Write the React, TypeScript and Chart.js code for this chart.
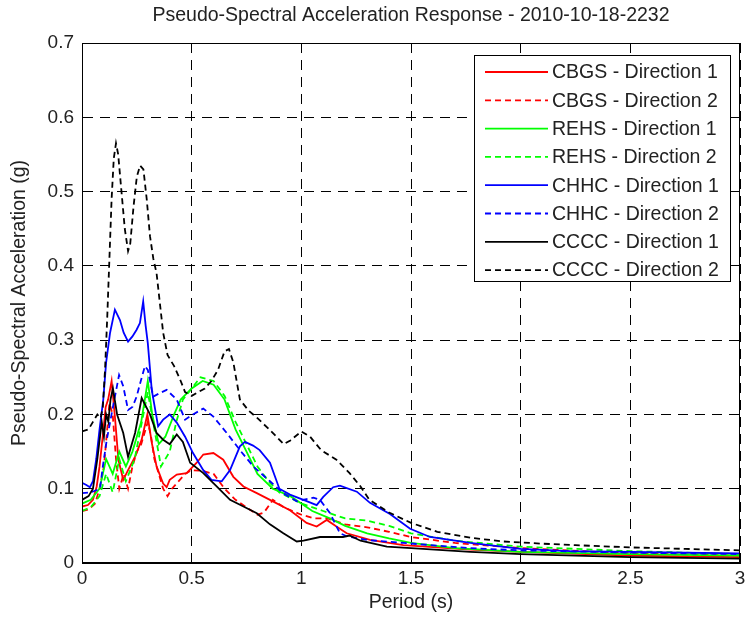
import React, { useEffect, useRef } from 'react';
import { Chart, registerables } from 'chart.js';

Chart.register(...registerables);

const FONT = "'Liberation Sans', Arial, Helvetica, sans-serif";
const TITLE = 'Pseudo-Spectral Acceleration Response - 2010-10-18-2232';
const X_LABEL = 'Period (s)';
const Y_LABEL = 'Pseudo-Spectral Acceleration (g)';
const X_TICKS = [0, 0.5, 1, 1.5, 2, 2.5, 3];
const Y_TICKS = [0, 0.1, 0.2, 0.3, 0.4, 0.5, 0.6, 0.7];

const SERIES_NAMES = [
  'CBGS - Direction 1',
  'CBGS - Direction 2',
  'REHS - Direction 1',
  'REHS - Direction 2',
  'CHHC - Direction 1',
  'CHHC - Direction 2',
  'CCCC - Direction 1',
  'CCCC - Direction 2',
];
const SERIES_COLORS = ['#ff0000', '#ff0000', '#00ff00', '#00ff00', '#0000ff', '#0000ff', '#000000', '#000000'];
const SERIES_DASHED = [false, true, false, true, false, true, false, true];

// CBGS - Direction 1
const CBGS1_T = [0, 0.027, 0.05, 0.067, 0.08, 0.096, 0.108, 0.119, 0.135, 0.15, 0.166, 0.188, 0.21, 0.242, 0.272, 0.298, 0.318, 0.34, 0.37, 0.386, 0.4, 0.432, 0.477, 0.523, 0.553, 0.599, 0.644, 0.69, 0.736, 0.797, 0.857, 0.948, 1.024, 1.07, 1.116, 1.16, 1.207, 1.313, 1.465, 1.77, 2.0, 2.5, 3.0];
const CBGS1_SA = [0.076, 0.078, 0.085, 0.103, 0.13, 0.175, 0.21, 0.22, 0.245, 0.197, 0.139, 0.112, 0.125, 0.143, 0.166, 0.2, 0.162, 0.13, 0.107, 0.102, 0.112, 0.119, 0.121, 0.135, 0.146, 0.148, 0.139, 0.116, 0.103, 0.094, 0.085, 0.071, 0.054, 0.049, 0.058, 0.049, 0.04, 0.031, 0.024, 0.018, 0.015, 0.01, 0.008];

// CBGS - Direction 2
const CBGS2_T = [0, 0.03, 0.06, 0.08, 0.1, 0.115, 0.125, 0.14, 0.155, 0.17, 0.19, 0.21, 0.23, 0.25, 0.27, 0.29, 0.3, 0.315, 0.33, 0.35, 0.37, 0.39, 0.41, 0.44, 0.47, 0.5, 0.55, 0.6, 0.65, 0.7, 0.75, 0.8, 0.83, 0.87, 0.92, 1.0, 1.06, 1.12, 1.2, 1.3, 1.4, 1.5, 1.7, 2.0, 2.5, 3.0];
const CBGS2_SA = [0.07, 0.072, 0.08, 0.1, 0.13, 0.18, 0.215, 0.2, 0.14, 0.1, 0.12, 0.1, 0.13, 0.15, 0.16, 0.18, 0.19, 0.17, 0.14, 0.12, 0.1, 0.09, 0.1, 0.11, 0.12, 0.125, 0.124, 0.12, 0.1, 0.085, 0.075, 0.065, 0.068, 0.085, 0.075, 0.065, 0.06, 0.06, 0.052, 0.048, 0.042, 0.035, 0.027, 0.02, 0.013, 0.01];

// REHS - Direction 1
const REHS1_T = [0, 0.04, 0.08, 0.11, 0.14, 0.17, 0.2, 0.23, 0.27, 0.3, 0.32, 0.35, 0.38, 0.42, 0.45, 0.5, 0.55, 0.6, 0.65, 0.7, 0.75, 0.8, 0.87, 0.95, 1.0, 1.05, 1.13, 1.2, 1.3, 1.4, 1.5, 1.7, 2.0, 2.5, 3.0];
const REHS1_SA = [0.08, 0.085, 0.1, 0.14, 0.12, 0.15, 0.13, 0.15, 0.19, 0.245, 0.2, 0.16, 0.17, 0.2, 0.22, 0.235, 0.245, 0.24, 0.22, 0.18, 0.15, 0.12, 0.1, 0.09, 0.08, 0.07, 0.06, 0.05, 0.04, 0.033, 0.027, 0.02, 0.015, 0.012, 0.01];

// REHS - Direction 2
const REHS2_T = [0, 0.04, 0.08, 0.11, 0.14, 0.17, 0.2, 0.24, 0.28, 0.3, 0.33, 0.36, 0.4, 0.43, 0.46, 0.5, 0.54, 0.6, 0.65, 0.7, 0.75, 0.8, 0.85, 0.9, 1.0, 1.1, 1.2, 1.3, 1.4, 1.5, 1.7, 2.0, 2.5, 3.0];
const REHS2_SA = [0.07, 0.075, 0.09, 0.12, 0.095, 0.14, 0.11, 0.14, 0.2, 0.23, 0.18, 0.13, 0.15, 0.19, 0.22, 0.235, 0.25, 0.245, 0.225, 0.19, 0.16, 0.13, 0.11, 0.095, 0.08, 0.07, 0.06, 0.057, 0.05, 0.04, 0.03, 0.022, 0.016, 0.012];

// CHHC - Direction 1
const CHHC1_T = [0, 0.02, 0.036, 0.05, 0.065, 0.08, 0.097, 0.11, 0.128, 0.15, 0.173, 0.19, 0.21, 0.23, 0.249, 0.264, 0.279, 0.29, 0.3, 0.318, 0.347, 0.37, 0.4, 0.432, 0.47, 0.506, 0.553, 0.59, 0.637, 0.675, 0.72, 0.743, 0.78, 0.81, 0.857, 0.9, 0.948, 1.01, 1.07, 1.1, 1.145, 1.176, 1.253, 1.313, 1.404, 1.496, 1.587, 1.77, 2.0, 2.225, 2.5, 2.75, 3.0];
const CHHC1_SA = [0.108, 0.105, 0.102, 0.11, 0.14, 0.18, 0.22, 0.27, 0.31, 0.341, 0.327, 0.31, 0.298, 0.305, 0.314, 0.323, 0.352, 0.32, 0.296, 0.233, 0.184, 0.193, 0.2, 0.189, 0.17, 0.148, 0.125, 0.112, 0.11, 0.125, 0.157, 0.163, 0.158, 0.152, 0.135, 0.1, 0.092, 0.085, 0.078, 0.089, 0.102, 0.104, 0.096, 0.081, 0.066, 0.046, 0.035, 0.027, 0.019, 0.016, 0.015, 0.014, 0.013];

// CHHC - Direction 2
const CHHC2_T = [0, 0.04, 0.082, 0.095, 0.113, 0.141, 0.169, 0.188, 0.21, 0.23, 0.249, 0.268, 0.287, 0.3, 0.325, 0.356, 0.386, 0.432, 0.47, 0.506, 0.553, 0.599, 0.66, 0.72, 0.781, 0.857, 0.917, 0.979, 1.024, 1.055, 1.085, 1.131, 1.176, 1.207, 1.3, 1.465, 1.77, 2.0, 2.5, 3.0];
const CHHC2_SA = [0.094, 0.095, 0.1, 0.13, 0.166, 0.21, 0.253, 0.238, 0.206, 0.21, 0.224, 0.245, 0.265, 0.26, 0.224, 0.229, 0.233, 0.22, 0.193, 0.2, 0.208, 0.197, 0.175, 0.152, 0.13, 0.11, 0.094, 0.083, 0.086, 0.088, 0.085, 0.067, 0.04, 0.036, 0.031, 0.027, 0.02, 0.017, 0.014, 0.012];

// CCCC - Direction 1
const CCCC1_T = [0, 0.03, 0.05, 0.07, 0.09, 0.1, 0.11, 0.12, 0.13, 0.141, 0.16, 0.188, 0.21, 0.242, 0.272, 0.31, 0.34, 0.37, 0.4, 0.432, 0.46, 0.493, 0.553, 0.614, 0.675, 0.736, 0.797, 0.857, 0.918, 0.979, 1.01, 1.085, 1.19, 1.22, 1.27, 1.39, 1.5, 1.77, 2.0, 2.5, 3.0];
const CCCC1_SA = [0.085, 0.09, 0.1, 0.14, 0.19, 0.17, 0.2, 0.19, 0.22, 0.235, 0.2, 0.175, 0.143, 0.175, 0.222, 0.2, 0.175, 0.166, 0.16, 0.173, 0.163, 0.135, 0.121, 0.103, 0.085, 0.076, 0.067, 0.052, 0.04, 0.029, 0.03, 0.035, 0.035, 0.037, 0.03, 0.022, 0.02, 0.015, 0.012, 0.008, 0.006];

// CCCC - Direction 2
const CCCC2_T = [0, 0.03, 0.05, 0.07, 0.085, 0.095, 0.105, 0.115, 0.125, 0.135, 0.145, 0.155, 0.165, 0.18, 0.195, 0.21, 0.22, 0.235, 0.25, 0.265, 0.28, 0.295, 0.31, 0.325, 0.34, 0.355, 0.37, 0.39, 0.42, 0.45, 0.47, 0.5, 0.53, 0.56, 0.59, 0.62, 0.65, 0.67, 0.69, 0.72, 0.76, 0.8, 0.86, 0.92, 0.95, 1.0, 1.04, 1.09, 1.16, 1.22, 1.27, 1.31, 1.4, 1.5, 1.62, 1.77, 1.92, 2.1, 2.25, 2.5, 2.75, 3.0];
const CCCC2_SA = [0.177, 0.18, 0.19, 0.2, 0.195, 0.21, 0.26, 0.33, 0.41, 0.49, 0.545, 0.565, 0.55, 0.5, 0.45, 0.42, 0.43, 0.48, 0.52, 0.535, 0.53, 0.49, 0.44, 0.41, 0.39, 0.35, 0.31, 0.28, 0.265, 0.245, 0.23, 0.225, 0.23, 0.235, 0.245, 0.26, 0.285, 0.288, 0.27, 0.22, 0.205, 0.195, 0.178, 0.16, 0.165, 0.177, 0.17, 0.152, 0.139, 0.121, 0.103, 0.085, 0.068, 0.054, 0.042, 0.034, 0.029, 0.026, 0.024, 0.021, 0.019, 0.017];

const SERIES_T = [CBGS1_T, CBGS2_T, REHS1_T, REHS2_T, CHHC1_T, CHHC2_T, CCCC1_T, CCCC2_T];
const SERIES_SA = [CBGS1_SA, CBGS2_SA, REHS1_SA, REHS2_SA, CHHC1_SA, CHHC2_SA, CCCC1_SA, CCCC2_SA];

const DASH = [6, 4];

const framePlugin = {
  id: 'frameAndLegend',
  afterDraw(chart: any) {
    const { ctx, chartArea } = chart;
    ctx.save();
    // title centred over the axes
    ctx.font = `19.5px ${FONT}`;
    ctx.fillStyle = '#222';
    ctx.textAlign = 'center';
    ctx.textBaseline = 'middle';
    ctx.fillText(TITLE, (chartArea.left + chartArea.right) / 2, 16);

    ctx.strokeStyle = '#000';
    ctx.lineWidth = 1;
    ctx.setLineDash([]);
    ctx.strokeRect(chartArea.left + 0.5, chartArea.top + 0.5, chartArea.right - chartArea.left - 1, chartArea.bottom - chartArea.top - 1);

    // legend box inside plot (top-right)
    const boxRight = chartArea.right - 9;
    const boxLeft = boxRight - 257;
    const boxTop = chartArea.top + 12;
    const rowH = 28.3;
    const boxH = 227;
    ctx.fillStyle = '#fff';
    ctx.fillRect(boxLeft, boxTop, boxRight - boxLeft, boxH);
    ctx.strokeRect(boxLeft + 0.5, boxTop + 0.5, boxRight - boxLeft - 1, boxH - 1);
    ctx.font = `19.5px ${FONT}`;
    ctx.textBaseline = 'middle';
    ctx.textAlign = 'left';
    chart.data.datasets.forEach((ds: any, i: number) => {
      const cy = boxTop + 17 + i * rowH;
      ctx.beginPath();
      ctx.strokeStyle = ds.borderColor;
      ctx.lineWidth = ds.borderWidth;
      ctx.setLineDash(ds.borderDash || []);
      ctx.moveTo(boxLeft + 11, cy);
      ctx.lineTo(boxLeft + 74, cy);
      ctx.stroke();
      ctx.setLineDash([]);
      ctx.fillStyle = '#222';
      ctx.fillText(ds.label, boxLeft + 78, cy + 1);
    });
    ctx.restore();
  },
};

export default function App() {
  const ref = useRef<HTMLCanvasElement | null>(null);
  useEffect(() => {
    if (!ref.current) return;
    const datasets = SERIES_NAMES.map((name, i) => ({
      label: name,
      data: SERIES_T[i].map((t, k) => ({ x: t, y: SERIES_SA[i][k] })),
      borderColor: SERIES_COLORS[i],
      backgroundColor: SERIES_COLORS[i],
      borderWidth: 1.8,
      borderDash: SERIES_DASHED[i] ? DASH : [],
      pointRadius: 0,
      tension: 0,
      fill: false,
      order: SERIES_NAMES.length - i,
    }));
    const chart = new Chart(ref.current, {
      type: 'line',
      data: { datasets },
      plugins: [framePlugin],
      options: {
        animation: false,
        responsive: false,
        devicePixelRatio: 1,
        layout: { padding: { left: 0, right: 11, top: 43, bottom: 0 } },
        plugins: {
          legend: { display: false },
          tooltip: { enabled: false },
          title: { display: false },
        },
        scales: {
          x: {
            type: 'linear',
            min: 0,
            max: 3,
            afterBuildTicks: (s: any) => { s.ticks = X_TICKS.map((v) => ({ value: v })); },
            afterFit: (s: any) => { s.height = 58; },
            ticks: {
              color: '#222',
              font: { family: FONT, size: 19 },
              padding: 4,
              maxRotation: 0,
              callback: (v: any) => String(v),
            },
            grid: { color: '#000', lineWidth: 1, drawTicks: false },
            border: { display: true, color: '#000', dash: [10, 7] },
            title: {
              display: true,
              text: X_LABEL,
              color: '#222',
              font: { family: FONT, size: 19.5 },
              padding: { top: 0, bottom: 7 },
            },
          },
          y: {
            type: 'linear',
            min: 0,
            max: 0.7,
            afterBuildTicks: (s: any) => { s.ticks = Y_TICKS.map((v) => ({ value: v })); },
            afterFit: (s: any) => { s.width = 82; },
            ticks: {
              color: '#222',
              font: { family: FONT, size: 19 },
              padding: 8,
              callback: (v: any) => String(v),
            },
            grid: { color: '#000', lineWidth: 1, drawTicks: false },
            border: { display: true, color: '#000', dash: [10, 7] },
            title: {
              display: true,
              text: Y_LABEL,
              color: '#222',
              font: { family: FONT, size: 19.5 },
              padding: { top: 8, bottom: 0 },
            },
          },
        },
      },
    } as any);
    return () => chart.destroy();
  }, []);
  return (
    <div style={{ position: 'absolute', left: 0, top: 0, width: 751, height: 621, background: '#fff' }}>
      <canvas ref={ref} width={751} height={621} style={{ width: 751, height: 621, display: 'block' }} />
    </div>
  );
}
